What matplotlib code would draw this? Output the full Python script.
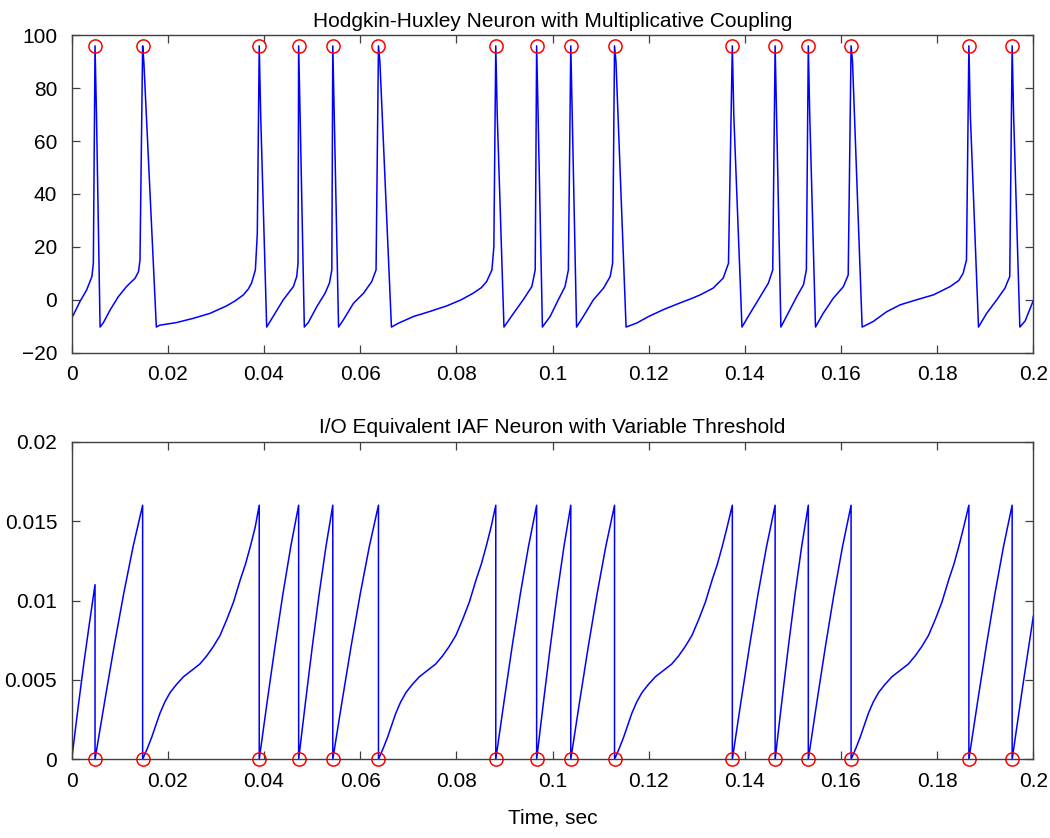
import matplotlib
matplotlib.use('Agg')
import matplotlib.pyplot as plt

plt.rcParams['font.family'] = ['Liberation Sans', 'DejaVu Sans']

# spike times (sec)
spike_times = [0.00485, 0.01475, 0.0390, 0.0472, 0.0543, 0.0638, 0.0882, 0.0967,
               0.1038, 0.1129, 0.1374, 0.1463, 0.1532, 0.1621, 0.1866, 0.1956]
spike_peak = 96.0

# Hodgkin-Huxley membrane trace (time, value)
hh_t = [0.0, 0.0017, 0.0031, 0.0042, 0.0045, 0.00485,
        0.00515, 0.0059, 0.0066, 0.0080, 0.0097, 0.0114, 0.0132, 0.0139, 0.0142, 0.01475,
        0.0150, 0.0176, 0.0183, 0.0200, 0.0218, 0.0253, 0.0288, 0.0322, 0.0340, 0.0357, 0.0367, 0.0374, 0.0382, 0.0386, 0.0390,
        0.0393, 0.04055, 0.0419, 0.0440, 0.0461, 0.0468, 0.04707, 0.0472,
        0.0475, 0.04838, 0.0492, 0.0510, 0.0527, 0.0536, 0.0541, 0.0543,
        0.0546, 0.0555, 0.0565, 0.0586, 0.0607, 0.0624, 0.0633, 0.0638,
        0.0641, 0.0665, 0.0680, 0.0711, 0.0745, 0.0780, 0.0810, 0.0835, 0.0852, 0.0863, 0.0874, 0.0878, 0.0882,
        0.0885, 0.0899, 0.0919, 0.0939, 0.0957, 0.0964, 0.0967,
        0.0970, 0.0979, 0.0995, 0.1012, 0.1026, 0.1033, 0.1038,
        0.1041, 0.1050, 0.1064, 0.1085, 0.1106, 0.1120, 0.1125, 0.1129,
        0.1132, 0.1153, 0.1175, 0.1200, 0.1232, 0.1265, 0.1288, 0.1307, 0.1334, 0.1355, 0.1366, 0.1374,
        0.1377, 0.1394, 0.1411, 0.1432, 0.1449, 0.1458, 0.1463,
        0.1466, 0.1475, 0.1490, 0.1508, 0.1522, 0.1528, 0.1532,
        0.1535, 0.1547, 0.1563, 0.1584, 0.1605, 0.1615, 0.1621,
        0.1624, 0.1644, 0.1667, 0.1695, 0.1723, 0.1757, 0.1792, 0.1827, 0.1845, 0.1854, 0.1861, 0.1866,
        0.1869, 0.1886, 0.1903, 0.1924, 0.1941, 0.1951, 0.1956,
        0.1959, 0.1972, 0.1983, 0.1993, 0.2000]
hh_v = [-7, -0.7, 3.7, 8.8, 13.8, 96,
        70, -10.3, -8.6, -3.8, 1.2, 5.0, 8.2, 10.7, 15, 96,
        90, -10.3, -9.6, -9.1, -8.6, -7.0, -5.1, -2.3, -0.4, 1.85, 4.0, 6.3, 11.3, 25, 96,
        70, -10.3, -6.3, 0.0, 5.0, 8.8, 13.8, 96,
        70, -10.3, -8.6, -2.5, 2.5, 6.3, 11.3, 96,
        70, -10.3, -7.6, -1.3, 2.5, 6.9, 11.3, 96,
        90, -10.3, -8.8, -6.3, -4.4, -2.3, 0.0, 2.5, 4.6, 6.9, 11.3, 20, 96,
        70, -10.3, -5.1, 0.0, 5.0, 11.3, 96,
        70, -10.3, -6.3, 0.0, 5.0, 11.3, 96,
        70, -10.3, -6.3, 0.0, 4.4, 8.8, 13.8, 96,
        90, -10.3, -8.8, -6.3, -3.6, -1.2, 0.4, 1.85, 4.4, 8.2, 13.8, 96,
        70, -10.3, -5.1, 1.2, 6.3, 11.3, 96,
        70, -10.3, -5.1, 1.2, 5.7, 11.3, 96,
        70, -10.3, -5.1, 0.6, 5.0, 9.4, 96,
        90, -10.3, -8.2, -4.5, -1.9, 0.0, 1.85, 5.0, 7.3, 10.0, 15, 96,
        70, -10.3, -5.1, 0.0, 4.4, 8.8, 96,
        70, -10.3, -8.0, -3.5, -0.3]

# IAF integrator trace (time, value)
iaf_t = [0.0, 0.0013, 0.0025, 0.0037, 0.00485,
         0.00485, 0.00683, 0.00881, 0.01079, 0.01277, 0.01475,
         0.01475, 0.01575, 0.01665, 0.01755, 0.01835, 0.01935, 0.02045, 0.02175, 0.02325, 0.02495, 0.02665,
         0.02805, 0.02945, 0.03085, 0.03225, 0.03365, 0.03505, 0.03615, 0.03715, 0.03815, 0.0390,
         0.0390, 0.04064, 0.04228, 0.04392, 0.04556, 0.0472,
         0.0472, 0.04862, 0.05004, 0.05146, 0.05288, 0.0543,
         0.0543, 0.0562, 0.0581, 0.0600, 0.0619, 0.0638,
         0.0638, 0.0648, 0.0657, 0.0666, 0.0674, 0.0684, 0.0695, 0.0708, 0.0723, 0.0740, 0.0757,
         0.0771, 0.0785, 0.0799, 0.0813, 0.0827, 0.0841, 0.0852, 0.0862, 0.0872, 0.0882,
         0.0882, 0.0899, 0.0916, 0.0933, 0.0950, 0.0967,
         0.0967, 0.09812, 0.09954, 0.10096, 0.10238, 0.1038,
         0.1038, 0.10562, 0.10744, 0.10926, 0.11108, 0.1129,
         0.1129, 0.1139, 0.1148, 0.1157, 0.1165, 0.1175, 0.1186, 0.1199, 0.1214, 0.1231, 0.1248,
         0.1262, 0.1276, 0.1290, 0.1304, 0.1318, 0.1332, 0.1343, 0.1353, 0.1363, 0.1374,
         0.1374, 0.13918, 0.14096, 0.14274, 0.14452, 0.1463,
         0.1463, 0.14768, 0.14906, 0.15044, 0.15182, 0.1532,
         0.1532, 0.15498, 0.15676, 0.15854, 0.16032, 0.1621,
         0.1621, 0.1631, 0.1640, 0.1649, 0.1657, 0.1667, 0.1678, 0.1691, 0.1706, 0.1723, 0.1740,
         0.1754, 0.1768, 0.1782, 0.1796, 0.1810, 0.1824, 0.1835, 0.1845, 0.1855, 0.1866,
         0.1866, 0.1884, 0.1902, 0.1920, 0.1938, 0.1956,
         0.1956, 0.1978, 0.2000]
iaf_v = [0, 0.0032, 0.0060, 0.0086, 0.0110,
         0, 0.0036, 0.0071, 0.0104, 0.0134, 0.016,
         0, 0.0007, 0.0014, 0.0022, 0.0029, 0.0036, 0.0042, 0.0047, 0.0052, 0.0056, 0.0060,
         0.0065, 0.0071, 0.0078, 0.0088, 0.0099, 0.0113, 0.0123, 0.0134, 0.0146, 0.016,
         0, 0.0036, 0.0071, 0.0104, 0.0134, 0.016,
         0, 0.0036, 0.0071, 0.0104, 0.0134, 0.016,
         0, 0.0036, 0.0071, 0.0104, 0.0134, 0.016,
         0, 0.0007, 0.0014, 0.0022, 0.0029, 0.0036, 0.0042, 0.0047, 0.0052, 0.0056, 0.0060,
         0.0065, 0.0071, 0.0078, 0.0088, 0.0099, 0.0113, 0.0123, 0.0134, 0.0146, 0.016,
         0, 0.0036, 0.0071, 0.0104, 0.0134, 0.016,
         0, 0.0036, 0.0071, 0.0104, 0.0134, 0.016,
         0, 0.0036, 0.0071, 0.0104, 0.0134, 0.016,
         0, 0.0007, 0.0014, 0.0022, 0.0029, 0.0036, 0.0042, 0.0047, 0.0052, 0.0056, 0.0060,
         0.0065, 0.0071, 0.0078, 0.0088, 0.0099, 0.0113, 0.0123, 0.0134, 0.0146, 0.016,
         0, 0.0036, 0.0071, 0.0104, 0.0134, 0.016,
         0, 0.0036, 0.0071, 0.0104, 0.0134, 0.016,
         0, 0.0036, 0.0071, 0.0104, 0.0134, 0.016,
         0, 0.0007, 0.0014, 0.0022, 0.0029, 0.0036, 0.0042, 0.0047, 0.0052, 0.0056, 0.0060,
         0.0065, 0.0071, 0.0078, 0.0088, 0.0099, 0.0113, 0.0123, 0.0134, 0.0146, 0.016,
         0, 0.0036, 0.0071, 0.0104, 0.0134, 0.016,
         0, 0.0046, 0.0090]

x_ticks = [0, 0.02, 0.04, 0.06, 0.08, 0.1, 0.12, 0.14, 0.16, 0.18, 0.2]
x_labels = ['0', '0.02', '0.04', '0.06', '0.08', '0.1', '0.12', '0.14', '0.16', '0.18', '0.2']
top_yticks = [-20, 0, 20, 40, 60, 80, 100]
bot_yticks = [0, 0.005, 0.01, 0.015, 0.02]
bot_ylabels = ['0', '0.005', '0.01', '0.015', '0.02']

fig = plt.figure(figsize=(10.5, 8.38), dpi=100)
ax1 = fig.add_axes([0.0683, 0.5791, 0.9158, 0.3788])
ax2 = fig.add_axes([0.0683, 0.0939, 0.9158, 0.3790])


def style(ax):
    ax.tick_params(direction='in', top=True, right=True, length=6, width=0.9,
                   labelsize=15, colors='#404040', labelcolor='black')
    ax.tick_params(axis='x', pad=9)
    ax.tick_params(axis='y', pad=10.5)
    for sp in ax.spines.values():
        sp.set_color('#404040')
        sp.set_linewidth(1.0)


ax1.plot(hh_t, hh_v, color='blue', lw=1.1)
ax1.plot(spike_times, [spike_peak] * len(spike_times), 'o', mfc='none', mec='red',
         ms=9.5, mew=1.1)
ax1.set_xlim(0, 0.2)
ax1.set_ylim(-20, 100)
ax1.set_xticks(x_ticks)
ax1.set_xticklabels(x_labels)
ax1.set_yticks(top_yticks)
ax1.set_title('Hodgkin-Huxley Neuron with Multiplicative Coupling', fontsize=15, pad=6)
style(ax1)

ax2.plot(iaf_t, iaf_v, color='blue', lw=1.1)
ax2.plot(spike_times, [0] * len(spike_times), 'o', mfc='none', mec='red',
         ms=9.5, mew=1.1, clip_on=False)
ax2.set_xlim(0, 0.2)
ax2.set_ylim(0, 0.02)
ax2.set_xticks(x_ticks)
ax2.set_xticklabels(x_labels)
ax2.set_yticks(bot_yticks)
ax2.set_yticklabels(bot_ylabels)
ax2.set_title('I/O Equivalent IAF Neuron with Variable Threshold', fontsize=15, pad=6)
ax2.set_xlabel('Time, sec', fontsize=15, labelpad=13)
style(ax2)

fig.savefig('out.png', dpi=100)
